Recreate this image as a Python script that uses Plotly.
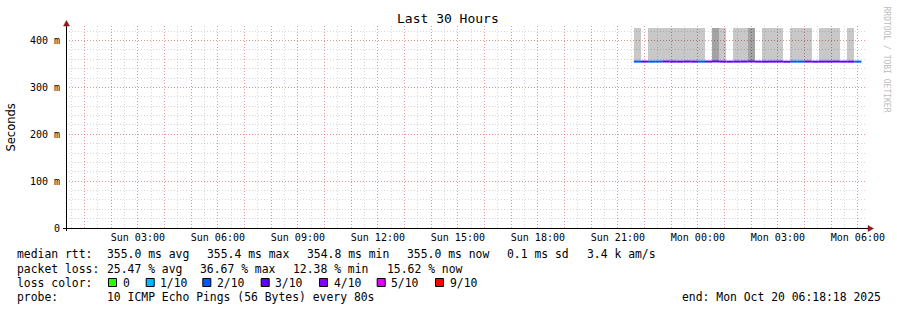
import plotly.graph_objects as go
import pandas as pd

# ---------------- data ----------------
TITLE = "Last 30 Hours"
X_START = "2025-10-19 00:18:18"
X_END = "2025-10-20 06:18:18"
STEP_S = 960  # consolidation step (s)

step_start = [
    "2025-10-19 21:36:00", "2025-10-19 21:52:00", "2025-10-19 22:08:00", "2025-10-19 22:24:00",
    "2025-10-19 22:40:00", "2025-10-19 22:56:00", "2025-10-19 23:12:00", "2025-10-19 23:28:00",
    "2025-10-19 23:44:00", "2025-10-20 00:00:00", "2025-10-20 00:16:00", "2025-10-20 00:32:00",
    "2025-10-20 00:48:00", "2025-10-20 01:04:00", "2025-10-20 01:20:00", "2025-10-20 01:36:00",
    "2025-10-20 01:52:00", "2025-10-20 02:08:00", "2025-10-20 02:24:00", "2025-10-20 02:40:00",
    "2025-10-20 02:56:00", "2025-10-20 03:12:00", "2025-10-20 03:28:00", "2025-10-20 03:44:00",
    "2025-10-20 04:00:00", "2025-10-20 04:16:00", "2025-10-20 04:32:00", "2025-10-20 04:48:00",
    "2025-10-20 05:04:00", "2025-10-20 05:20:00", "2025-10-20 05:36:00", "2025-10-20 05:52:00",
]
median_ms = [
    355.0, 355.1, 354.9, 355.0, 355.2, 355.0, 354.9, 355.1,
    355.0, 355.0, 355.1, 355.4, 355.0, 354.9, 355.0, 355.1,
    355.3, 355.0, 354.9, 355.0, 355.1, 354.8, 355.0, 355.0,
    355.1, 354.9, 355.0, 355.0, 355.1, 355.0, 354.9, 355.0,
]
loss_pct = [
    22.5, 31.7, 24.2, 27.5, 33.3, 35.0, 30.8, 32.5,
    36.7, 28.3, 30.0, 34.2, 31.7, 33.3, 30.8, 32.5,
    35.8, 31.7, 30.0, 33.3, 32.5, 30.8, 25.8, 27.5,
    31.7, 33.3, 30.0, 34.2, 32.5, 30.8, 31.7, 20.8,
]
smoke_low_ms = [
    354.6, None, 354.5, 354.6, 354.7, 354.5, 354.6, 354.6,
    354.5, 354.6, None, 354.7, 354.6, None, 354.5, 354.6,
    354.7, None, 354.6, 354.5, 354.6, None, 354.5, 354.6,
    354.6, None, 354.5, 354.6, 354.5, None, 354.6, None,
]
smoke_high_ms = [
    427.0, None, 427.0, 427.0, 427.0, 427.0, 427.0, 427.0,
    427.0, 427.0, None, 427.0, 427.0, None, 427.0, 427.0,
    427.0, None, 427.0, 427.0, 427.0, None, 427.0, 427.0,
    427.0, None, 427.0, 427.0, 427.0, None, 427.0, None,
]
smoke_dense = [
    0, 0, 0, 0, 0, 0, 0, 0,
    0, 0, 0, 1, 0, 0, 0, 0,
    1, 0, 0, 0, 0, 0, 0, 0,
    0, 0, 0, 0, 0, 0, 0, 0,
]

y_tick_vals = [0.0, 0.1, 0.2, 0.3, 0.4]
y_tick_text = ["0", "100 m", "200 m", "300 m", "400 m"]
x_label_times = ["2025-10-19 03:00", "2025-10-19 06:00", "2025-10-19 09:00", "2025-10-19 12:00",
                 "2025-10-19 15:00", "2025-10-19 18:00", "2025-10-19 21:00", "2025-10-20 00:00",
                 "2025-10-20 03:00", "2025-10-20 06:00"]
x_label_text = ["Sun 03:00", "Sun 06:00", "Sun 09:00", "Sun 12:00", "Sun 15:00", "Sun 18:00",
                "Sun 21:00", "Mon 00:00", "Mon 03:00", "Mon 06:00"]

loss_levels = [0, 1, 2, 3, 4, 5, 9]
loss_labels = ["0", "1/10", "2/10", "3/10", "4/10", "5/10", "9/10"]
loss_colors = ["#26ff00", "#00b8ff", "#0059ff", "#5e00ff", "#7e00ff", "#dd00ff", "#ff0000"]

rtt_stats = ["355.0 ms avg", "355.4 ms max", "354.8 ms min", "355.0 ms now", "0.1 ms sd", "3.4 k am/s"]
loss_stats = ["25.47 % avg", "36.67 % max", "12.38 % min", "15.62 % now"]
probe_text = "10 ICMP Echo Pings (56 Bytes) every 80s"
end_text = "end: Mon Oct 20 06:18:18 2025"
watermark = "RRDTOOL / TOBI OETIKER"

# ---------------- layout geometry (pixels) ----------------
W, H = 897, 310
PL, PR, PT, PB = 66, 866, 26, 228
MONO = "DejaVu Sans Mono"


def px(x):
    return (x - PL) / (PR - PL)


def py(y):
    return (PB - y) / (PB - PT)


rtt_x = [107.3, 207.3, 307.3, 407.3, 507.3, 586.7]
loss_x = [107.3, 200.0, 293.3, 386.7]
box_x = [108.5, 146.2, 202.8, 261.2, 319.5, 377.2, 435.5]
row_y = [254.0, 268.5, 282.5, 296.5]

# ---------------- figure ----------------
fig = go.Figure()

t0 = pd.to_datetime(step_start)
t1 = t0 + pd.Timedelta(seconds=STEP_S)

# smoke
sx, sy, sb, sc = [], [], [], []
for t, lo, hi, d in zip(t0, smoke_low_ms, smoke_high_ms, smoke_dense):
    if lo is None:
        continue
    sx.append(t)
    sb.append(lo / 1000)
    sy.append((hi - lo) / 1000)
    sc.append("rgba(0,0,0,0.36)" if d else "rgba(0,0,0,0.215)")
fig.add_trace(go.Bar(x=sx, y=sy, base=sb, width=STEP_S * 1000, offset=0,
                     marker=dict(color=sc, line=dict(width=0)), showlegend=False,
                     hoverinfo="skip"))


# median line, coloured by loss
def loss_color(p):
    n = p / 10.0
    c = loss_colors[0]
    for lv, col in zip(loss_levels, loss_colors):
        if n >= lv:
            c = col
    return c


groups = {}
for a, b, m, l in zip(t0, t1, median_ms, loss_pct):
    c = loss_color(l)
    g = groups.setdefault(c, ([], []))
    g[0].extend([a, b, None])
    g[1].extend([m / 1000, m / 1000, None])
for c, (gx, gy) in groups.items():
    fig.add_trace(go.Scatter(x=gx, y=gy, mode="lines", line=dict(color=c, width=2),
                             showlegend=False, hoverinfo="skip"))

hours = pd.date_range("2025-10-19 01:00", "2025-10-20 06:00", freq="h")
lab = dict(zip(pd.to_datetime(x_label_times), x_label_text))
tickvals = list(hours)
ticktext = [lab.get(h, "") for h in hours]

MAJ = "rgba(255,0,0,0.30)"
MIN = "rgba(130,130,130,0.32)"

fig.update_xaxes(type="date", range=[X_START, X_END], tickmode="array",
                 tickvals=tickvals, ticktext=ticktext, showgrid=True, gridcolor=MAJ,
                 griddash="1px,2px", gridwidth=1, showline=False, zeroline=False,
                 ticks="", ticklabelstandoff=2,
                 tickfont=dict(family=MONO, size=10, color="#000"),
                 minor=dict(tick0="2025-10-19 00:00:00", dtick=1800000, showgrid=True,
                            gridcolor=MIN, griddash="1px,2px", gridwidth=1))
fig.update_yaxes(range=[0, 0.431], tickmode="array", tickvals=y_tick_vals,
                 ticktext=y_tick_text, showgrid=True, gridcolor=MAJ, griddash="1px,2px",
                 gridwidth=1, zeroline=False, showline=False, ticks="", ticklabelstandoff=5,
                 tickfont=dict(family=MONO, size=10, color="#000"),
                 minor=dict(tick0=0, dtick=0.02, showgrid=True, gridcolor=MIN,
                            griddash="1px,2px", gridwidth=1))

shapes = []
AX = "#000000"
ARR = "#8b1a1a"
# axis lines
shapes.append(dict(type="line", xref="paper", yref="paper", x0=px(63), x1=px(869),
                   y0=py(228.5), y1=py(228.5), line=dict(color=AX, width=1), layer="above"))
shapes.append(dict(type="line", xref="paper", yref="paper", x0=px(66.5), x1=px(66.5),
                   y0=py(231), y1=py(24), line=dict(color=AX, width=1), layer="above"))
# arrows
shapes.append(dict(type="path", xref="paper", yref="paper",
                   path=f"M {px(868)} {py(225.5)} L {px(873.5)} {py(228.5)} L {px(868)} {py(231.5)} Z",
                   fillcolor=ARR, line=dict(color=ARR, width=0.5), layer="above"))
shapes.append(dict(type="path", xref="paper", yref="paper",
                   path=f"M {px(63.5)} {py(26)} L {px(66.5)} {py(20.5)} L {px(69.5)} {py(26)} Z",
                   fillcolor=ARR, line=dict(color=ARR, width=0.5), layer="above"))
# loss colour boxes
for bx, col in zip(box_x, loss_colors):
    shapes.append(dict(type="rect", xref="paper", yref="paper", x0=px(bx), x1=px(bx + 8),
                       y0=py(278.5), y1=py(286.5), fillcolor=col,
                       line=dict(color="#000", width=1), layer="above"))

ann = []
LF = dict(family=MONO, size=11.4, color="#000")


def text(x, y, s, font=LF, xa="left", **kw):
    ann.append(dict(x=px(x), y=py(y), xref="paper", yref="paper", text=s, showarrow=False,
                    xanchor=xa, yanchor="middle", font=font, borderpad=0, borderwidth=0, **kw))


text(448, 19, TITLE, font=dict(family=MONO, size=13, color="#000"), xa="center")
ann.append(dict(x=px(10.5), y=py(127), xref="paper", yref="paper", text="Seconds",
                showarrow=False, textangle=-90, xanchor="center", yanchor="middle",
                font=dict(family="DejaVu Sans", size=11.5, color="#000")))
ann.append(dict(x=px(886.5), y=py(59), xref="paper", yref="paper", text=watermark,
                showarrow=False, textangle=90, xanchor="center", yanchor="middle",
                font=dict(family=MONO, size=8, color="#bcbcbc")))

text(16.5, row_y[0], "median rtt:")
for x, s in zip(rtt_x, rtt_stats):
    text(x, row_y[0], s)
text(16.5, row_y[1], "packet loss:")
for x, s in zip(loss_x, loss_stats):
    text(x, row_y[1], s)
text(16.5, row_y[2], "loss color:")
for bx, s in zip(box_x, loss_labels):
    text(bx + 14, row_y[2], s)
text(16.5, row_y[3], "probe:")
text(107.3, row_y[3], probe_text)
text(881.5, row_y[3], end_text, xa="right")

fig.update_layout(width=W, height=H, margin=dict(l=PL, r=W - PR, t=PT, b=H - PB),
                  paper_bgcolor="#ffffff", plot_bgcolor="#ffffff", showlegend=False,
                  shapes=shapes, annotations=ann, bargap=0)

fig.write_html("out.html")
